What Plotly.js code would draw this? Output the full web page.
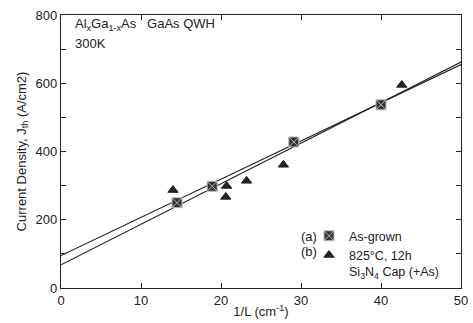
<!DOCTYPE html>
<html><head><meta charset="utf-8">
<script src="https://cdn.plot.ly/plotly-3.0.1.min.js"></script>
<style>html,body{margin:0;padding:0;background:#fff}#c{width:473px;height:323px}</style>
</head><body><div id="c"></div>
<script>
// Data
const asGrownX = [14.5, 18.9, 29.1, 40.0];
const asGrownY = [250, 298, 428, 537];
const annealX = [14.0, 20.7, 20.6, 23.2, 27.8, 42.6];
const annealY = [287, 299, 267, 314, 361, 595];
const fitX = [0, 50];
const fitA = [95, 655];
const fitB = [68, 662];

const ink = '#222';
const font = {family: 'Liberation Sans, Arial, sans-serif', size: 13, color: ink};
const legFont = {family: 'Liberation Sans, Arial, sans-serif', size: 12.5, color: ink};

const traces = [
  {x: fitX, y: fitA, mode: 'lines', line: {color: ink, width: 1.2}, showlegend: false, hoverinfo: 'skip'},
  {x: fitX, y: fitB, mode: 'lines', line: {color: ink, width: 1.2}, showlegend: false, hoverinfo: 'skip'},
  {x: asGrownX, y: asGrownY, mode: 'markers', name: 'As-grown',
   marker: {symbol: 'square-x', size: 10, color: '#333', line: {color: '#bbb', width: 1}}},
  {x: annealX, y: annealY, mode: 'markers', name: '825°C, 12h<br>Si<sub>3</sub>N<sub>4</sub> Cap (+As)',
   marker: {symbol: 'triangle-up', size: 9, color: '#222', line: {color: '#222', width: 1}}}
];

const layout = {
  width: 473, height: 323,
  margin: {l: 61, r: 12, t: 15, b: 35},
  paper_bgcolor: '#fff', plot_bgcolor: '#fff',
  font: font,
  showlegend: true,
  legend: {x: 0.62, y: 0.245, xanchor: 'left', yanchor: 'top', bgcolor: 'rgba(0,0,0,0)',
           font: legFont, itemwidth: 30, tracegroupgap: 0, valign: 'top'},
  xaxis: {range: [0, 50], dtick: 10, ticks: 'inside', ticklen: 5, tickcolor: ink,
          showline: true, linecolor: ink, linewidth: 1.2, mirror: 'allticks', showgrid: false,
          zeroline: false, tickfont: font,
          title: {text: '1/L (cm<sup>-1</sup>)', font: font, standoff: 0}},
  yaxis: {range: [0, 800], dtick: 200, ticks: 'inside', ticklen: 5, tickcolor: ink,
          minor: {dtick: 100, ticks: 'inside', ticklen: 5, tickcolor: ink},
          showline: true, linecolor: ink, linewidth: 1.2, mirror: 'allticks', showgrid: false,
          zeroline: false, tickfont: font,
          title: {text: 'Current Density, J<sub>th</sub> (A/cm2)', font: font, standoff: 6}},
  annotations: [
    {xref: 'paper', yref: 'paper', x: 0.03, y: 0.965, xanchor: 'left', yanchor: 'middle', showarrow: false,
     text: 'Al<sub>x</sub>Ga<sub>1-x</sub>As&nbsp;&nbsp;&nbsp;GaAs QWH', font: font},
    {xref: 'paper', yref: 'paper', x: 0.03, y: 0.895, xanchor: 'left', yanchor: 'middle', showarrow: false,
     text: '300K', font: font},
    {xref: 'paper', yref: 'paper', x: 0.595, y: 0.19, xanchor: 'left', yanchor: 'middle', showarrow: false,
     text: '(a)', font: font},
    {xref: 'paper', yref: 'paper', x: 0.595, y: 0.133, xanchor: 'left', yanchor: 'middle', showarrow: false,
     text: '(b)', font: font}
  ]
};

Plotly.newPlot('c', traces, layout, {displayModeBar: false, staticPlot: true});
</script>
</body></html>
